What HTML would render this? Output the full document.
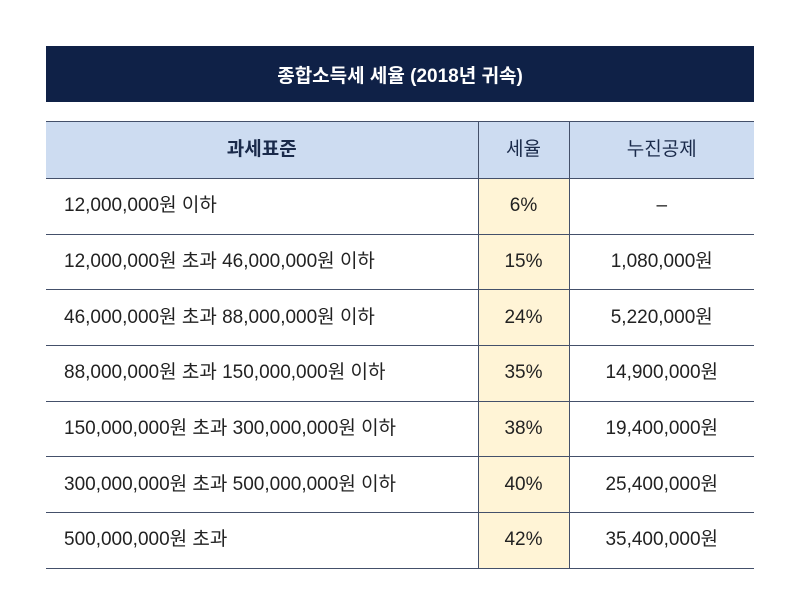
<!DOCTYPE html>
<html><head><meta charset="utf-8"><style>
body{margin:0;width:800px;height:613px;background:#fff;font-family:"Liberation Sans","Noto Sans CJK KR",sans-serif;position:relative;overflow:hidden}
.title{position:absolute;left:46px;top:46px;width:708px;height:56px;background:#0f2147;color:#fff;font-size:19px;font-weight:bold;display:flex;align-items:center;justify-content:center}
table{position:absolute;left:46px;top:121px;width:708px;border-collapse:collapse;table-layout:fixed}
td{height:55.7px;padding:0;border-top:1.5px solid #44506a;border-bottom:1.5px solid #44506a;font-size:19px;line-height:22px;vertical-align:middle;color:#222;text-align:center;box-sizing:border-box}
td span{display:inline-block;line-height:22px;vertical-align:middle}
td+td{border-left:1.5px solid #44506a}
tr.h td{background:#cddcf1;color:#1a2a4a;height:57px}
tr.h td:first-child{font-weight:bold}
td.l{text-align:left;padding-left:18px}
td.r{background:#fff4d6}
</style></head><body>
<div class="title">종합소득세 세율 (2018년 귀속)</div>
<table>
<colgroup><col style="width:432px"><col style="width:91px"><col style="width:185px"></colgroup>
<tr class="h"><td>과세표준</td><td>세율</td><td>누진공제</td></tr>
<tr><td class="l">12,000,000원 이하</td><td class="r">6<span>%</span></td><td>–</td></tr>
<tr><td class="l">12,000,000원 초과 46,000,000원 이하</td><td class="r">15<span>%</span></td><td>1,080,000원</td></tr>
<tr><td class="l">46,000,000원 초과 88,000,000원 이하</td><td class="r">24<span>%</span></td><td>5,220,000원</td></tr>
<tr><td class="l">88,000,000원 초과 150,000,000원 이하</td><td class="r">35<span>%</span></td><td>14,900,000원</td></tr>
<tr><td class="l">150,000,000원 초과 300,000,000원 이하</td><td class="r">38<span>%</span></td><td>19,400,000원</td></tr>
<tr><td class="l">300,000,000원 초과 500,000,000원 이하</td><td class="r">40<span>%</span></td><td>25,400,000원</td></tr>
<tr><td class="l">500,000,000원 초과</td><td class="r">42<span>%</span></td><td>35,400,000원</td></tr>
</table>
</body></html>
